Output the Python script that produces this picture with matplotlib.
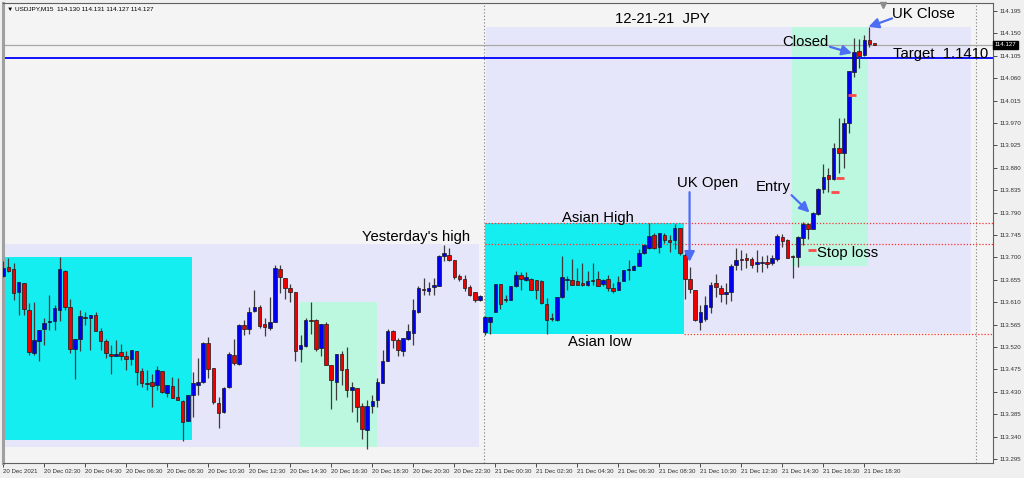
import matplotlib
matplotlib.use('Agg')
import matplotlib.pyplot as plt
import matplotlib.transforms as mtransforms
from matplotlib.patches import Rectangle
import numpy as np

plt.rcParams['font.family'] = ['Liberation Sans', 'DejaVu Sans']

# USDJPY M15, bar 0 = 20 Dec 00:00, first visible bar = 2
first_bar = 2
opens = [113.663, 113.680, 113.676, 113.631, 113.648, 113.594, 113.507, 113.533, 113.556, 113.570,
         113.573, 113.594, 113.673, 113.601, 113.515, 113.537, 113.581, 113.579, 113.584, 113.553,
         113.532, 113.506, 113.502, 113.509, 113.502, 113.495, 113.511, 113.472, 113.448, 113.449,
         113.444, 113.472, 113.427, 113.442, 113.420, 113.412, 113.372, 113.424, 113.444, 113.449,
         113.529, 113.477, 113.408, 113.389, 113.440, 113.503, 113.485, 113.564, 113.556, 113.593,
         113.601, 113.566, 113.558, 113.571, 113.676, 113.658, 113.639, 113.631, 113.515, 113.522,
         113.574, 113.574, 113.517, 113.566, 113.484, 113.450, 113.505, 113.475, 113.434, 113.437,
         113.401, 113.353, 113.401, 113.414, 113.447, 113.491, 113.552, 113.534, 113.511, 113.537,
         113.549, 113.591, 113.636, 113.633, 113.640, 113.643, 113.703, 113.704, 113.695, 113.663,
         113.657, 113.640, 113.630, 113.615, 113.551, 113.570, 113.590, 113.647, 113.616, 113.615,
         113.642, 113.665, 113.655, 113.657, 113.654, 113.653, 113.607, 113.578, 113.575, 113.620,
         113.655, 113.655, 113.653, 113.649, 113.645, 113.655, 113.657, 113.647, 113.657, 113.639,
         113.635, 113.653, 113.674, 113.675, 113.682, 113.708, 113.719, 113.744, 113.721, 113.745,
         113.734, 113.734, 113.759, 113.704, 113.656, 113.635, 113.571, 113.576, 113.601, 113.648,
         113.639, 113.627, 113.631, 113.685, 113.696, 113.698, 113.697, 113.686, 113.688, 113.691,
         113.689, 113.697, 113.740, 113.735, 113.703, 113.701, 113.738, 113.767, 113.757, 113.787,
         113.838, 113.866, 113.858, 113.920, 113.910, 113.969, 114.073, 114.114, 114.106, 114.137,
         114.130]
highs = [113.692, 113.698, 113.688, 113.651, 113.648, 113.608, 113.611, 113.554, 113.578, 113.625,
         113.604, 113.700, 113.675, 113.616, 113.537, 113.594, 113.591, 113.584, 113.591, 113.558,
         113.537, 113.524, 113.534, 113.527, 113.511, 113.513, 113.511, 113.477, 113.474, 113.466,
         113.481, 113.472, 113.444, 113.459, 113.457, 113.414, 113.424, 113.470, 113.497, 113.531,
         113.541, 113.477, 113.420, 113.440, 113.509, 113.537, 113.566, 113.574, 113.601, 113.635,
         113.604, 113.578, 113.621, 113.685, 113.685, 113.658, 113.646, 113.631, 113.544, 113.578,
         113.611, 113.576, 113.566, 113.571, 113.484, 113.506, 113.511, 113.521, 113.450, 113.437,
         113.407, 113.414, 113.424, 113.457, 113.513, 113.556, 113.554, 113.539, 113.539, 113.566,
         113.616, 113.643, 113.658, 113.651, 113.658, 113.705, 113.725, 113.718, 113.695, 113.667,
         113.665, 113.645, 113.631, 113.625, 113.583, 113.580, 113.647, 113.647, 113.625, 113.642,
         113.673, 113.670, 113.670, 113.659, 113.655, 113.655, 113.618, 113.588, 113.620, 113.702,
         113.662, 113.697, 113.679, 113.689, 113.672, 113.689, 113.672, 113.657, 113.665, 113.649,
         113.662, 113.675, 113.695, 113.685, 113.717, 113.726, 113.769, 113.750, 113.749, 113.748,
         113.744, 113.768, 113.759, 113.709, 113.681, 113.635, 113.605, 113.623, 113.651, 113.666,
         113.645, 113.648, 113.686, 113.718, 113.715, 113.708, 113.701, 113.715, 113.703, 113.705,
         113.705, 113.746, 113.746, 113.737, 113.704, 113.742, 113.771, 113.769, 113.792, 113.839,
         113.888, 113.879, 113.930, 113.981, 113.981, 114.075, 114.140, 114.138, 114.147, 114.163,
         114.131]
lows = [113.661, 113.671, 113.615, 113.584, 113.584, 113.504, 113.504, 113.491, 113.524, 113.554,
        113.554, 113.573, 113.594, 113.507, 113.455, 113.511, 113.564, 113.513, 113.553, 113.514,
        113.497, 113.466, 113.501, 113.494, 113.474, 113.484, 113.444, 113.440, 113.434, 113.400,
        113.434, 113.428, 113.420, 113.417, 113.414, 113.332, 113.372, 113.380, 113.424, 113.447,
        113.457, 113.405, 113.357, 113.387, 113.438, 113.484, 113.484, 113.544, 113.547, 113.591,
        113.558, 113.542, 113.554, 113.571, 113.629, 113.616, 113.611, 113.491, 113.489, 113.521,
        113.547, 113.511, 113.501, 113.484, 113.395, 113.413, 113.444, 113.420, 113.390, 113.370,
        113.336, 113.316, 113.387, 113.400, 113.447, 113.491, 113.517, 113.502, 113.502, 113.534,
        113.524, 113.589, 113.625, 113.625, 113.625, 113.643, 113.692, 113.692, 113.656, 113.653,
        113.633, 113.623, 113.611, 113.613, 113.545, 113.547, 113.590, 113.596, 113.610, 113.614,
        113.641, 113.635, 113.652, 113.634, 113.616, 113.607, 113.547, 113.572, 113.572, 113.618,
        113.635, 113.645, 113.644, 113.643, 113.642, 113.645, 113.642, 113.642, 113.632, 113.629,
        113.634, 113.652, 113.655, 113.674, 113.682, 113.706, 113.717, 113.716, 113.709, 113.729,
        113.710, 113.717, 113.704, 113.616, 113.629, 113.572, 113.554, 113.573, 113.588, 113.621,
        113.611, 113.606, 113.612, 113.675, 113.675, 113.678, 113.679, 113.671, 113.671, 113.678,
        113.685, 113.693, 113.720, 113.698, 113.658, 113.681, 113.725, 113.736, 113.757, 113.785,
        113.830, 113.832, 113.855, 113.870, 113.879, 113.950, 114.063, 114.080, 114.104, 114.123,
        114.127]
closes = [113.678, 113.673, 113.629, 113.651, 113.596, 113.509, 113.534, 113.554, 113.569, 113.572,
          113.598, 113.676, 113.600, 113.515, 113.537, 113.582, 113.579, 113.584, 113.553, 113.533,
          113.507, 113.502, 113.506, 113.502, 113.495, 113.513, 113.470, 113.447, 113.446, 113.442,
          113.474, 113.430, 113.444, 113.418, 113.414, 113.370, 113.424, 113.447, 113.450, 113.529,
          113.475, 113.410, 113.387, 113.438, 113.505, 113.487, 113.564, 113.556, 113.591, 113.601,
          113.562, 113.560, 113.571, 113.678, 113.660, 113.639, 113.631, 113.511, 113.524, 113.574,
          113.573, 113.515, 113.566, 113.484, 113.454, 113.506, 113.474, 113.434, 113.439, 113.399,
          113.355, 113.401, 113.412, 113.450, 113.491, 113.553, 113.534, 113.514, 113.539, 113.553,
          113.594, 113.638, 113.634, 113.639, 113.645, 113.703, 113.708, 113.694, 113.660, 113.656,
          113.639, 113.625, 113.615, 113.623, 113.580, 113.580, 113.647, 113.607, 113.614, 113.642,
          113.665, 113.657, 113.660, 113.635, 113.635, 113.608, 113.575, 113.576, 113.620, 113.660,
          113.657, 113.645, 113.644, 113.644, 113.652, 113.652, 113.643, 113.655, 113.639, 113.632,
          113.651, 113.675, 113.677, 113.683, 113.709, 113.724, 113.742, 113.719, 113.748, 113.734,
          113.731, 113.759, 113.708, 113.657, 113.637, 113.575, 113.590, 113.604, 113.645, 113.641,
          113.626, 113.630, 113.683, 113.695, 113.695, 113.695, 113.685, 113.690, 113.690, 113.687,
          113.698, 113.742, 113.733, 113.699, 113.701, 113.740, 113.767, 113.758, 113.790, 113.837,
          113.862, 113.857, 113.919, 113.910, 113.969, 114.075, 114.113, 114.104, 114.137, 114.128,
          114.127]

# small red trade marks
mark_bars = [159.8, 164.2, 165.3, 167.6]
mark_prices = [113.715, 113.831, 113.859, 114.026]

target = 114.100
last_price = 114.127
asian_high = 113.769
yesterday_high = 113.726
asian_low = 113.546

tick_bars = [2] + list(range(10, 171, 8))
tick_labels = ['20 Dec 2021', '20 Dec 02:30', '20 Dec 04:30', '20 Dec 06:30', '20 Dec 08:30',
               '20 Dec 10:30', '20 Dec 12:30', '20 Dec 14:30', '20 Dec 16:30', '20 Dec 18:30',
               '20 Dec 20:30', '20 Dec 22:30', '21 Dec 00:30', '21 Dec 02:30', '21 Dec 04:30',
               '21 Dec 06:30', '21 Dec 08:30', '21 Dec 10:30', '21 Dec 12:30', '21 Dec 14:30',
               '21 Dec 16:30', '21 Dec 18:30']
price_ticks = np.round(np.arange(113.295, 114.196, 0.045), 3)

o = np.array(opens)
h = np.array(highs)
l = np.array(lows)
c = np.array(closes)
x = np.arange(first_bar, first_bar + len(o))

fig = plt.figure(figsize=(10.24, 4.78), dpi=100, facecolor='#f0f0f0')
ax = fig.add_axes([3 / 1024, 15 / 478, 990 / 1024, 460 / 478], facecolor='#f4f4f4')
ax.set_xlim(1.95, 195.1)
ax.set_ylim(113.287, 114.211)

lav = '#e6e6fa'
cyan = '#15eef0'
mint = '#bcf8e0'
boxes = [(0, 94.8, 113.319, 113.727, lav), (0, 38.9, 113.333, 113.700, cyan),
         (59.9, 74.9, 113.319, 113.611, mint), (96.2, 190.8, 113.548, 114.162, lav),
         (96.0, 134.8, 113.546, 113.769, cyan), (155.8, 170.7, 113.683, 114.163, mint)]
for x0, x1, y0, y1, col in boxes:
    ax.add_patch(Rectangle((x0, y0), x1 - x0, y1 - y0, fc=col, ec='none', zorder=1))

# separators
ax.axvline(95.8, color='#7a7a7a', ls=(0, (1, 2)), lw=0.8, zorder=2)
ax.axvline(191.8, color='#7a7a7a', ls=(0, (1, 2)), lw=0.8, zorder=2)

ax.axhline(last_price, color='#a8a8a8', lw=0.9, zorder=2)
ax.axhline(target, color='#0000ff', lw=1.3, zorder=2)
ax.hlines([asian_high, yesterday_high], 96, 195.1, color='#ff3030', ls=(0, (1, 1.5)), lw=0.9, zorder=2)
ax.hlines(asian_low, 134.8, 195.1, color='#ff3030', ls=(0, (1, 1.5)), lw=0.9, zorder=2)

# candles
cols = np.where(c >= o, '#0000ee', '#ee0000')
ax.vlines(x, l, h, color='#3c3c3c', lw=0.9, zorder=3)
ax.bar(x, np.maximum(np.abs(c - o), 0.0008), bottom=np.minimum(o, c), width=0.7,
       color=cols, edgecolor='#1a1a1a', linewidth=0.5, zorder=4)

ax.plot(mark_bars, mark_prices, ls='none', marker='_', ms=6, mew=2, color='#ff4a4a', zorder=5)

# annotations
fs = 10.7
ax.text(121.4, 114.170, '12-21-21  JPY', fontsize=fs, zorder=7)
ax.text(175.4, 114.180, 'UK Close', fontsize=fs, zorder=7)
ax.text(153.9, 114.125, 'Closed', fontsize=fs, zorder=7)
ax.text(175.6, 114.101, 'Target  1.1410', fontsize=fs, zorder=7)
ax.text(148.9, 113.834, 'Entry', fontsize=fs, zorder=7)
ax.text(133.5, 113.841, 'UK Open', fontsize=fs, zorder=7)
ax.text(111.1, 113.772, 'Asian High', fontsize=fs, zorder=7)
ax.text(72.0, 113.732, "Yesterday's high", fontsize=fs, zorder=7)
ax.text(160.7, 113.700, 'Stop loss', fontsize=fs, zorder=7)
ax.text(112.1, 113.523, 'Asian low', fontsize=fs, zorder=7)

arrow = dict(arrowstyle='-|>,head_length=0.6,head_width=0.3', color='#4d6df5', lw=1.6,
             shrinkA=0, shrinkB=0)
ax.annotate('', xy=(135.9, 113.691), xytext=(135.9, 113.831), arrowprops=arrow, zorder=6)
ax.annotate('', xy=(159.3, 113.790), xytext=(155.8, 113.825), arrowprops=arrow, zorder=6)
ax.annotate('', xy=(167.6, 114.110), xytext=(163.3, 114.123), arrowprops=arrow, zorder=6)
ax.annotate('', xy=(170.8, 114.163), xytext=(175.4, 114.180), arrowprops=arrow, zorder=6)

ax.text(0.004, 0.992, '\u25bc USDJPY,M15  114.130 114.131 114.127 114.127',
        transform=ax.transAxes, fontsize=4.6, va='top', zorder=7)
trans = mtransforms.blended_transform_factory(ax.transData, ax.transAxes)
ax.plot([173.7], [0.995], transform=trans, marker='v', ms=4, color='#8c8c8c',
        clip_on=False, zorder=7)

# axes
ax.yaxis.tick_right()
ax.set_yticks(price_ticks)
ax.set_yticklabels(['%.3f' % p for p in price_ticks])
ax.set_xticks(tick_bars)
ax.set_xticklabels(tick_labels, ha='left')
ax.tick_params(axis='y', direction='out', length=3, width=0.6, colors='#303030', labelsize=4.4, pad=2)
ax.tick_params(axis='x', direction='out', length=3, width=0.6, colors='#303030', labelsize=4.4, pad=1.5)

trans_y = mtransforms.blended_transform_factory(ax.transAxes, ax.transData)
ax.text(1.002, last_price, '%.3f' % last_price, transform=trans_y, fontsize=4.4, color='white',
        va='center', ha='left', bbox=dict(fc='black', ec='black', pad=1.2), zorder=8)

for s in ax.spines.values():
    s.set_color('#606060')
    s.set_linewidth(0.8)
ax.spines['left'].set_color('#a0a0a0')
ax.spines['left'].set_linewidth(2.2)

fig.savefig('out.png', dpi=100, facecolor=fig.get_facecolor())
